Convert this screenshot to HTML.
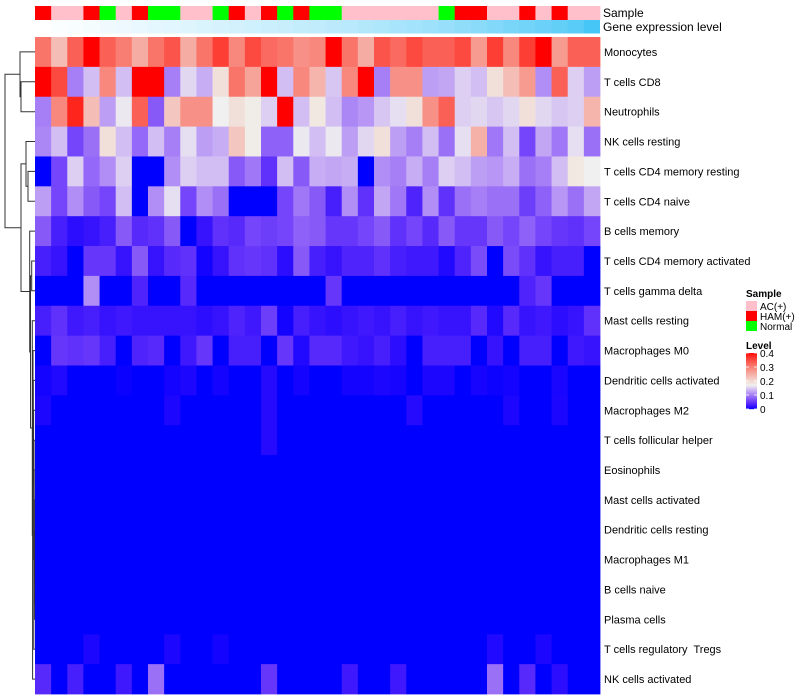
<!DOCTYPE html>
<html><head><meta charset="utf-8">
<style>
body{margin:0;background:#fff;}
svg{display:block;font-family:"Liberation Sans",sans-serif;}
</style></head>
<body>
<svg id="chart" width="800" height="700" viewBox="0 0 800 700">
  <g id="dendro"></g>
  <g id="annot"></g>
  <g id="cells"></g>
  <g id="rowlabels"></g>
  <text x="603" y="17" font-size="12">Sample</text>
  <text x="603" y="31" font-size="12">Gene expression level</text>
  <g id="legend">
    <text x="746" y="297" font-size="10" font-weight="bold">Sample</text>
    <rect x="746" y="301" width="11" height="10" fill="#FFC0CB"/>
    <rect x="746" y="311" width="11" height="10" fill="#FF0000"/>
    <rect x="746" y="321" width="11" height="10" fill="#00FF00"/>
    <text x="760" y="310" font-size="10">AC(+)</text>
    <text x="760" y="320" font-size="10">HAM(+)</text>
    <text x="760" y="330" font-size="10">Normal</text>
    <text x="746" y="349" font-size="10" font-weight="bold">Level</text>
    <g id="cbar"></g>
  </g>
</svg>
<script>
const rowNames=["Monocytes","T cells CD8","Neutrophils","NK cells resting","T cells CD4 memory resting","T cells CD4 naive","B cells memory","T cells CD4 memory activated","T cells gamma delta","Mast cells resting","Macrophages M0","Dendritic cells activated","Macrophages M2","T cells follicular helper","Eosinophils","Mast cells activated","Dendritic cells resting","Macrophages M1","B cells naive","Plasma cells","T cells regulatory  Tregs","NK cells activated"];
const sampleGroups=["H","A","A","H","N","A","H","N","N","A","A","N","H","A","H","N","H","N","N","A","A","A","A","A","A","N","H","H","A","A","H","A","H","A","A"];
const geneExpr=[0,0.02,0.04,0.06,0.08,0.1,0.12,0.14,0.16,0.18,0.2,0.22,0.24,0.26,0.28,0.3,0.32,0.34,0.36,0.38,0.41,0.44,0.47,0.5,0.53,0.56,0.6,0.64,0.68,0.72,0.76,0.8,0.85,0.9,1];
const r0=[0.31,0.23,0.33,0.4,0.33,0.3,0.25,0.31,0.34,0.25,0.31,0.36,0.29,0.35,0.32,0.31,0.28,0.29,0.4,0.31,0.25,0.34,0.32,0.35,0.33,0.33,0.35,0.27,0.36,0.29,0.36,0.4,0.27,0.33,0.33];
const r1=[0.4,0.35,0.1,0.14,0.29,0.14,0.4,0.4,0.1,0.155,0.13,0.19,0.31,0.26,0.4,0.14,0.29,0.24,0.145,0.29,0.4,0.1,0.28,0.28,0.12,0.125,0.15,0.14,0.19,0.23,0.27,0.11,0.33,0.15,0.12];
const r2=[0.1,0.29,0.38,0.23,0.12,0.165,0.33,0.075,0.22,0.28,0.28,0.17,0.19,0.175,0.15,0.4,0.14,0.18,0.14,0.105,0.115,0.145,0.16,0.19,0.28,0.33,0.15,0.155,0.145,0.155,0.19,0.155,0.145,0.15,0.24];
const r3=[0.105,0.14,0.06,0.09,0.19,0.14,0.085,0.14,0.1,0.16,0.12,0.13,0.22,0.175,0.08,0.08,0.165,0.14,0.165,0.12,0.155,0.19,0.12,0.1,0.14,0.09,0.16,0.245,0.095,0.14,0.06,0.125,0.095,0.16,0.09];
const r4=[0,0.06,0.15,0.085,0.11,0.15,0,0,0.11,0.15,0.14,0.14,0.075,0.095,0.045,0.14,0.075,0.13,0.125,0.13,0,0.11,0.1,0.13,0.1,0.15,0.14,0.12,0.115,0.13,0.09,0.1,0.14,0.18,0.17];
const r5=[0.12,0.06,0.11,0.075,0.06,0.14,0,0.11,0.16,0.06,0.11,0.09,0,0,0,0.06,0.095,0.075,0.03,0.11,0.045,0.125,0.095,0.035,0.11,0.045,0.09,0.1,0.09,0.09,0.055,0.08,0.115,0.09,0.125];
const r6=[0.075,0.03,0.015,0.02,0.03,0.075,0.04,0.045,0.075,0,0.02,0.045,0.04,0.06,0.055,0.06,0.08,0.075,0.05,0.05,0.06,0.075,0.045,0.06,0.04,0.075,0.05,0.05,0.075,0.06,0.08,0.06,0.05,0.045,0.06];
const r7=[0.03,0.02,0,0.05,0.05,0.02,0.075,0.02,0.04,0.045,0.005,0.02,0.045,0.05,0.045,0.015,0.075,0.03,0.02,0.035,0.035,0.045,0.03,0.025,0.025,0.01,0.035,0.065,0,0.065,0.045,0.02,0.03,0.03,0];
const r8=[0,0,0,0.11,0,0,0.035,0,0,0.04,0,0,0,0,0,0,0,0,0.05,0,0,0,0,0,0,0,0,0,0,0,0.035,0.05,0,0,0];
const r9=[0.03,0.045,0.025,0.03,0.02,0.025,0.02,0.02,0.02,0.02,0.015,0.02,0.035,0.025,0.055,0.005,0.03,0.02,0.015,0.02,0.025,0.02,0.03,0.02,0.025,0.02,0.02,0.04,0.01,0.04,0.02,0.025,0.015,0.02,0.045];
const r10=[0,0.05,0.045,0.05,0.03,0,0.035,0.04,0,0.025,0.05,0,0.03,0.03,0,0.05,0.01,0.04,0.04,0.025,0.02,0.03,0.015,0,0.03,0.03,0.03,0,0.02,0,0.03,0.03,0,0.025,0.02];
const r11=[0.005,0.01,0,0,0,0.002,0,0,0.005,0.008,0,0.005,0,0,0.012,0,0.005,0,0,0.005,0.005,0.008,0.006,0,0.008,0.008,0,0.006,0.003,0.005,0,0,0.007,0,0];
const r12=[0.008,0,0,0,0,0,0,0,0.008,0,0,0,0,0,0.012,0,0,0,0,0,0,0,0,0.012,0,0,0,0,0,0.008,0,0,0.008,0,0];
const r13=[0,0,0,0,0,0,0,0,0,0,0,0,0,0,0.012,0,0,0,0,0,0,0,0,0,0,0,0,0,0,0,0,0,0,0,0];
const r14=[0,0,0,0,0,0,0,0,0,0,0,0,0,0,0,0,0,0,0,0,0,0,0,0,0,0,0,0,0,0,0,0,0,0,0];
const r15=r14.slice(),r16=r14.slice(),r17=r14.slice(),r18=r14.slice(),r19=r14.slice();
const r20=[0,0,0,0.008,0,0,0,0,0.008,0,0,0.005,0,0,0,0,0,0,0,0,0,0,0,0,0,0,0,0,0.01,0,0,0.008,0,0,0];
const r21=[0.04,0,0.03,0,0,0.025,0,0.09,0,0,0,0,0,0,0.05,0,0,0,0,0.025,0,0,0.025,0,0,0,0,0,0.09,0,0.04,0,0.015,0,0];
const matrix=[r0,r1,r2,r3,r4,r5,r6,r7,r8,r9,r10,r11,r12,r13,r14,r15,r16,r17,r18,r19,r20,r21];
const levelTicks=[0,0.1,0.2,0.3,0.4];
const dendrogram=[5,[20,0,[21,1,2]],[21,[26,3,[28,4,5]],[29.7,6,[30.5,[31.7,7,8],[32.3,9,[32.6,21,[33,10,[33.3,11,[33.6,12,[33.8,20,[34,13,[34.2,14,[34.4,15,[34.5,16,[34.6,17,[34.7,18,19]]]]]]]]]]]]]]]];

const NS="http://www.w3.org/2000/svg";
const X0=35,X1=600,Y0=37,Y1=694;
const nC=sampleGroups.length,nR=rowNames.length;
const cw=(X1-X0)/nC,rh=(Y1-Y0)/nR;
const xPos=c=>X0+c*cw, yPos=r=>Y0+r*rh;
const MID=0.17,MAX=0.4;
function colorOf(v){
  v=Math.max(0,Math.min(MAX,v));
  let r,g,b;
  if(v<=MID){const t=v/MID;r=240*Math.pow(t,0.7);g=240*Math.pow(t,1.2);b=255-15*t;}
  else{const t=(v-MID)/(MAX-MID);r=240+15*t;g=240*Math.pow(1-t,0.77);b=235*Math.pow(1-t,0.85);}
  return `rgb(${Math.round(r)},${Math.round(g)},${Math.round(b)})`;
}
function mk(tag,attrs,parent){const e=document.createElementNS(NS,tag);for(const k in attrs)e.setAttribute(k,attrs[k]);parent.appendChild(e);return e;}
const gCells=document.getElementById('cells');
matrix.forEach((row,ri)=>row.forEach((v,ci)=>{
  const e=mk('rect',{x:xPos(ci).toFixed(2),y:yPos(ri).toFixed(2),width:(cw+0.4).toFixed(2),height:(rh+0.4).toFixed(2),fill:colorOf(v)},gCells);
  
  
}));
const gLab=document.getElementById('rowlabels');
rowNames.forEach((n,ri)=>{
  const t=mk('text',{x:604,y:(yPos(ri)+rh/2+4).toFixed(1),'font-size':11},gLab);
  t.setAttribute('xml:space','preserve');
  t.style.whiteSpace='pre';
  t.textContent=n;
  
  
});
const gAn=document.getElementById('annot');
const grpCol={A:'#FFC0CB',H:'#FF0000',N:'#00FF00'};
sampleGroups.forEach((s,ci)=>{
  const e=mk('rect',{x:xPos(ci).toFixed(2),y:6,width:(cw+0.4).toFixed(2),height:14,fill:grpCol[s]},gAn);
  
  
});
geneExpr.forEach((v,ci)=>{
  const r=Math.round(255-(255-70)*v),g=Math.round(255-(255-198)*v),b=Math.round(255-(255-246)*v);
  const e=mk('rect',{x:xPos(ci).toFixed(2),y:20,width:(ci===nC-1?cw:cw+0.4).toFixed(2),height:13.5,fill:`rgb(${r},${g},${b})`},gAn);
  
  
});
const gD=document.getElementById('dendro');
function drawNode(n){
  if(typeof n==='number')return {x:X0,y:yPos(n)+rh/2};
  const a=drawNode(n[1]),b=drawNode(n[2]),h=n[0];
  const p=mk('path',{d:`M${a.x},${a.y.toFixed(1)}H${h}V${b.y.toFixed(1)}H${b.x}`,fill:'none',stroke:'#333',"stroke-width":1},gD);
  
  
  return {x:h,y:(a.y+b.y)/2};
}
drawNode(dendrogram);
const gB=document.getElementById('cbar');
const CB0=353,CB1=409;
for(let i=0;i<56;i++){
  const v=MAX*(1-(i+0.5)/56);
  mk('rect',{x:746,y:CB0+i,width:11,height:1.2,fill:colorOf(v)},gB);
}
levelTicks.forEach(v=>{
  const y=CB1-(v/MAX)*(CB1-CB0);
  mk('line',{x1:746,x2:749,y1:y,y2:y,stroke:'#fff','stroke-width':0.8},gB);
  mk('line',{x1:754,x2:757,y1:y,y2:y,stroke:'#fff','stroke-width':0.8},gB);
  const t=mk('text',{x:760,y:(y+4).toFixed(1),'font-size':10},gB);
  t.textContent=String(v);
  
  
});
</script>
</body></html>
